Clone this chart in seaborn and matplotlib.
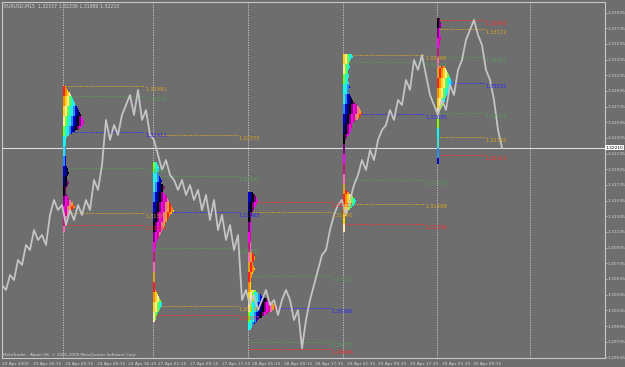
import numpy as np
import pandas as pd
import matplotlib
matplotlib.use("Agg")
import matplotlib.pyplot as plt
import seaborn as sns

# ---------------- data ----------------
symbol_header = "EURUSD,M15  1.32157 1.32236 1.31980 1.32210"
copyright_text = "MetaTrader - Alpari UK, \u00a9 2001-2009 MetaQuotes Software Corp."

close_prices = [
    1.30458, 1.30395, 1.30586, 1.30522, 1.30777, 1.30714, 1.30969, 1.30905,
    1.31160, 1.31033, 1.31096, 1.30969, 1.31352, 1.31543, 1.31415, 1.31479,
    1.31224, 1.31415, 1.31288, 1.31479, 1.31352, 1.31543, 1.31415, 1.31798,
    1.31671, 1.31990, 1.32564, 1.32309, 1.32500, 1.32372, 1.32628, 1.32755,
    1.32883, 1.32628, 1.32947, 1.32564, 1.32691, 1.32372, 1.32309, 1.32117,
    1.31926, 1.32053, 1.31862, 1.31798, 1.31671, 1.31798, 1.31607, 1.31734,
    1.31543, 1.31671, 1.31415, 1.31607, 1.31288, 1.31543, 1.31160, 1.31352,
    1.31033, 1.31224, 1.30905, 1.31096, 1.30267, 1.30395, 1.30203, 1.30331,
    1.30139, 1.30267, 1.30395, 1.30203, 1.30267, 1.30076, 1.30267, 1.30395,
    1.30267, 1.30012, 1.30139, 1.29650, 1.30012, 1.30267, 1.30458, 1.30650,
    1.30841, 1.30905, 1.31160, 1.31352, 1.31479, 1.31543, 1.31352, 1.31543,
    1.31734, 1.31862, 1.32053, 1.31926, 1.32181, 1.32053, 1.32309, 1.32436,
    1.32500, 1.32691, 1.32564, 1.32819, 1.32755, 1.33074, 1.32947, 1.33329,
    1.33202, 1.33393, 1.33138, 1.32883, 1.32755, 1.32628, 1.32819, 1.32691,
    1.33010, 1.32883, 1.33202, 1.33329, 1.33585, 1.33712, 1.33840, 1.33648,
    1.33521, 1.33202, 1.33074, 1.32819, 1.32436, 1.32210,
]
current_price = 1.32210

y_tick_values = [1.33935, 1.33735, 1.33535, 1.33335, 1.33135, 1.32935, 1.32735,
                 1.32535, 1.32335, 1.32135, 1.31935, 1.31735, 1.31535, 1.31335,
                 1.31135, 1.30935, 1.30735, 1.30535, 1.30335, 1.30135, 1.29935,
                 1.29735, 1.29535]

x_tick_labels = ["23 Apr 2009", "23 Apr 16:15", "24 Apr 00:15", "24 Apr 08:15",
                 "24 Apr 16:15", "27 Apr 01:15", "27 Apr 09:15", "27 Apr 17:15",
                 "28 Apr 01:15", "28 Apr 09:15", "28 Apr 17:15", "29 Apr 01:15",
                 "29 Apr 09:15", "29 Apr 17:15", "30 Apr 01:15", "30 Apr 09:15"]

# market profiles: top price and row widths (TPO counts per 2-pip row)
p1_top = 1.32998
p1_widths = [3, 4, 5, 7, 8, 9, 10, 11, 12, 13, 14, 15, 16, 17, 18, 19, 20, 21, 21, 20,
             18, 16, 12, 9, 6, 4, 3, 3, 3, 3, 3, 3, 3, 3, 3, 3, 3, 3, 3,
             3, 4, 5, 5, 6, 5, 4, 4, 5, 6, 5, 4, 3,
             3, 3, 4, 5, 6, 8, 10, 11, 12, 10, 8, 6, 5, 4, 3, 3, 2, 2, 2, 2, 2]
p2_top = 1.32028
p2_widths = [4, 5, 6, 7, 6, 5, 6, 7, 8, 9, 8, 10, 12, 11, 10, 11, 13, 14, 15, 16, 17, 18,
             19, 20, 21, 19, 17, 16, 15, 14, 13, 12, 11, 10, 9, 8, 7, 6, 5, 4, 3, 3, 3, 2,
             2, 2, 2, 2, 2, 2, 2, 2, 2, 2, 2, 2, 2, 2, 2, 2, 2, 2, 2, 2,
             3, 4, 5, 6, 7, 8, 9, 9, 8, 7, 6, 5, 4, 3, 3, 2]
p3_top = 1.31645
p3_widths = [5, 7, 8, 9, 10, 9, 8, 7, 6, 5, 4, 4,
             3, 3, 3, 3, 3, 3, 3, 3, 3, 3, 3, 3, 3, 3, 3, 3, 3,
             4, 5, 6, 7, 7, 6, 5, 5, 6, 7, 6, 5, 4, 4, 3, 3, 3, 3, 3, 3,
             8, 10, 13, 16, 19, 22, 25, 28, 29, 27, 24, 20, 17, 14, 11, 9, 7, 5, 4, 3]
p4_top = 1.33406
p4_widths = [9, 10, 8, 7, 6, 6, 7, 6, 5, 5, 6, 6, 5, 5, 6, 6, 7, 6, 5, 6, 7,
             8, 9, 10, 12, 14, 16, 17, 18, 19, 18, 17, 15,
             12, 10, 9, 9, 8, 8, 7, 6, 4, 3,
             2, 2, 2, 2, 2, 2, 2, 2, 2, 2, 2, 2, 2, 2, 2, 2, 2, 2, 2, 2, 2, 2, 2, 2, 2,
             4, 6, 8, 10, 12, 13, 12, 11, 9, 7, 5, 4, 3,
             2, 2, 2, 2, 2, 2, 2, 2]
p5_top = 1.33865
p5_widths = [3, 3, 4, 5, 4, 3, 3, 3, 3, 4, 4, 3, 3, 3,
             2, 2, 2, 2, 2, 2, 2, 2, 2, 2,
             8, 9, 10, 11, 12, 13, 14, 15, 16, 15, 14, 13, 12, 11, 10, 9, 8, 8, 7, 6, 5, 4,
             2, 2, 2, 2, 2, 2, 2, 2, 2, 2, 2, 2, 2, 2, 2, 2, 2, 2, 2, 2, 2, 2, 2, 2, 2, 2, 2]

# profile levels (price, kind)
p1_levels = [1.32991, 1.32870, 1.32411, 1.31951, 1.31377, 1.31224]
p1_kinds = ["hi", "va", "poc", "va", "hi", "lo"]
p2_levels = [1.32375, 1.31848, 1.31385, 1.30930, 1.30190, 1.30075]
p2_kinds = ["hi", "va", "poc", "va", "hi", "lo"]
p3_levels = [1.31517, 1.31390, 1.30573, 1.30166, 1.29731, 1.29646]
p3_kinds = ["lo", "hi", "va", "poc", "va", "lo"]
p4_levels = [1.33396, 1.33304, 1.32635, 1.31798, 1.31498, 1.31236]
p4_kinds = ["hi", "va", "poc", "va", "hi", "lo"]
p5_levels = [1.33842, 1.33722, 1.33367, 1.33032, 1.32653, 1.32342, 1.32112]
p5_kinds = ["lo", "hi", "va", "poc", "va", "hi", "lo"]

# ---------------- style ----------------
W, H = 625, 367
BG = "#6e6e6e"
FG = "#d4d4d4"
LINE = "#c4c4c4"
KIND_COL = {"hi": "#daa520", "va": "#5a9a5a", "poc": "#2a2aff", "lo": "#ff3030"}
PAL = ["#ff2020", "#ff8c00", "#ffd700", "#ffe4b5", "#7fff00", "#00ffff", "#40e0d0",
       "#1e90ff", "#0000cd", "#000080", "#000000", "#800080", "#ff00ff", "#c71585",
       "#ff69b4", "#daa520"]

sns.set_style("dark")
plt.rcParams['font.family'] = ['DejaVu Sans']

YMAX, YMIN = 1.34069, 1.29527
ROW = 0.000255

fig = plt.figure(figsize=(W / 100, H / 100), dpi=100, facecolor=BG)
ax = fig.add_axes([2 / W, 1 - 358 / H, 603 / W, 356 / H])
ax.set_facecolor(BG)
ax.set_xlim(2, 605)
ax.set_ylim(YMIN, YMAX)
ax.grid(False)

# day separators
for xs in [63, 153, 248, 343, 437, 530]:
    ax.axvline(xs, color="#cfcfcf", lw=0.6, ls=(0, (1.5, 1.5)), zorder=1)

# current price line
ax.axhline(current_price, color="#e6e6e6", lw=0.7, zorder=2)


def draw_profile(x0, top, widths, shift):
    for r, w in enumerate(widths):
        xr = [(x0 + k, 1) for k in range(w)]
        cols = [PAL[(r // 5 + k // 2 + shift) % len(PAL)] for k in range(w)]
        ax.broken_barh(xr, (top - (r + 1) * ROW, ROW), facecolors=cols,
                       edgecolor="none", linewidth=0, antialiased=False, zorder=4)


def draw_levels(x0, x1, levels, kinds):
    for p, k in zip(levels, kinds):
        c = KIND_COL[k]
        ax.hlines(p, x0, x1, colors=c, lw=0.7, linestyles=(0, (1.2, 1.2)), zorder=3)
        ax.text(x1, p - 0.00012, f"{p:.5f}", color=c, fontsize=3.8, ha="left", va="top",
                zorder=6)


draw_levels(63, 145, p1_levels, p1_kinds)
draw_levels(153, 238, p2_levels, p2_kinds)
draw_levels(248, 331, p3_levels, p3_kinds)
draw_levels(343, 425, p4_levels, p4_kinds)
draw_levels(437, 485, p5_levels, p5_kinds)

# price line
bars = np.arange(2, 2 + 4 * len(close_prices), 4)
df = pd.DataFrame({"bar": bars, "close": close_prices})
sns.lineplot(data=df, x="bar", y="close", ax=ax, color=LINE, lw=1.3, zorder=5)

draw_profile(63, p1_top, p1_widths, 0)
draw_profile(153, p2_top, p2_widths, 4)
draw_profile(248, p3_top, p3_widths, 8)
draw_profile(343, p4_top, p4_widths, 2)
draw_profile(437, p5_top, p5_widths, 10)

# axes styling
for s in ax.spines.values():
    s.set_color("#c8c8c8")
    s.set_linewidth(0.8)
ax.set_xlabel("")
ax.set_ylabel("")
ax.yaxis.tick_right()
ax.set_yticks(y_tick_values)
ax.set_yticklabels([f"{v:.5f}" for v in y_tick_values])
ax.tick_params(axis="y", length=1.5, width=0.5, color="#c8c8c8", labelsize=3.2,
               labelcolor=FG, pad=0.5)
ax.set_xticks([2, 33, 65, 97, 128, 158, 190, 222, 252, 284, 315, 347, 378, 410, 442, 473])
ax.set_xticklabels(x_tick_labels)
for t in ax.get_xticklabels():
    t.set_ha("left")
ax.tick_params(axis="x", length=2, width=0.5, color="#c8c8c8", labelsize=3.2,
               labelcolor=FG, pad=1)

# current price tag
ax.text(1.001, current_price, f"{current_price:.5f}", transform=ax.get_yaxis_transform(),
        fontsize=3.2, color="black", ha="left", va="center",
        bbox=dict(boxstyle="square,pad=0.15", fc="white", ec="none"), clip_on=False)

fig.text(4 / W, 1 - 6 / H, symbol_header, fontsize=3.3, color=FG, ha="left", va="center")
fig.text(3 / W, 1 - 355 / H, copyright_text, fontsize=3.0, color=FG, ha="left", va="center")

fig.savefig("out.png", dpi=100, facecolor=BG)
